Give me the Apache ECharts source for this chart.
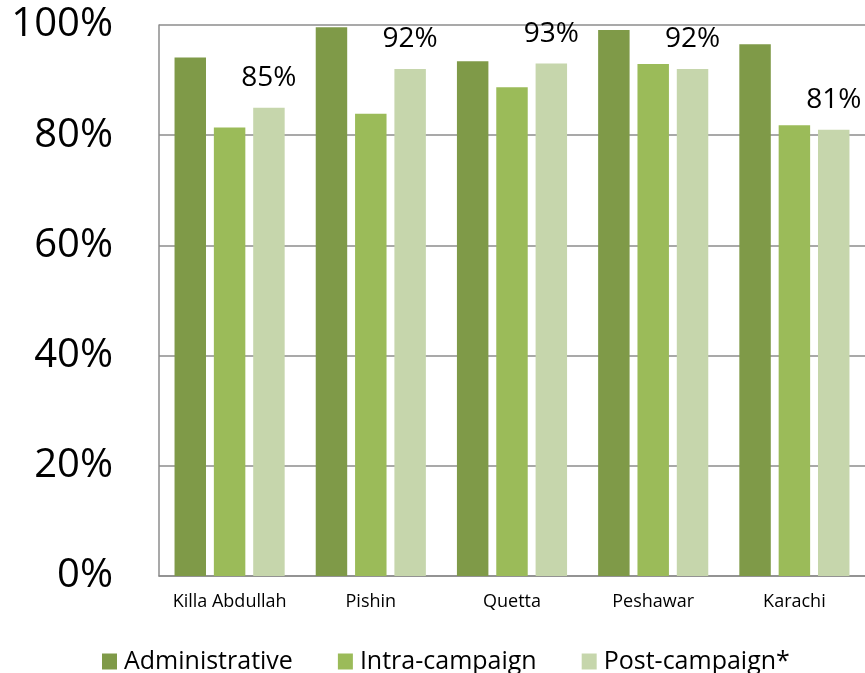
<!DOCTYPE html>
<html>
<head>
<meta charset="utf-8">
<script src="https://cdn.jsdelivr.net/npm/echarts@6/dist/echarts.min.js"></script>
<style>
  html, body { margin: 0; padding: 0; background: #fff; }
  #chart { width: 865px; height: 673px; }
</style>
</head>
<body>
<div id="chart"></div>
<script>
// Coverage by district (%), three survey methods
const districts = ['Killa Abdullah', 'Pishin', 'Quetta', 'Peshawar', 'Karachi'];
const administrative = [94.1, 99.6, 93.4, 99.1, 96.5];
const intraCampaign = [81.4, 83.9, 88.7, 92.9, 81.8];
const postCampaign = [85, 92, 93, 92, 81];
const yTicks = [0, 20, 40, 60, 80, 100];

const FONT = '"Open Sans", "Noto Sans", sans-serif';
const GRID_GRAY = '#8c8c8c';

const chart = echarts.init(document.getElementById('chart'), null, { renderer: 'canvas' });

chart.setOption({
  animation: false,
  backgroundColor: '#ffffff',
  textStyle: { fontFamily: FONT, color: '#000' },
  grid: { left: 159, top: 25, right: 0, bottom: 97, containLabel: false },
  legend: {
    left: 97,
    top: 644,
    icon: 'rect',
    itemWidth: 15,
    itemHeight: 16,
    itemGap: 45,
    textStyle: { fontFamily: FONT, fontSize: 25, color: '#000', padding: [0, 0, 0, 2] },
    data: ['Administrative', 'Intra-campaign', 'Post-campaign*']
  },
  xAxis: {
    type: 'category',
    data: districts,
    axisLine: { show: true, lineStyle: { color: GRID_GRAY, width: 1.5 } },
    axisTick: { show: false },
    axisLabel: { fontFamily: FONT, fontSize: 18, color: '#000', margin: 17, interval: 0 }
  },
  yAxis: {
    type: 'value',
    min: yTicks[0],
    max: yTicks[yTicks.length - 1],
    interval: yTicks[1] - yTicks[0],
    axisLine: { show: true, lineStyle: { color: GRID_GRAY, width: 1.5 } },
    axisTick: { show: false },
    splitLine: { show: true, lineStyle: { color: GRID_GRAY, width: 1.5 } },
    axisLabel: { fontFamily: FONT, fontSize: 40, color: '#000', margin: 46, formatter: '{value}%' }
  },
  series: [
    {
      name: 'Administrative',
      type: 'bar',
      data: administrative,
      barGap: '25%',
      barCategoryGap: '22%',
      itemStyle: { color: '#7f9a48' }
    },
    {
      name: 'Intra-campaign',
      type: 'bar',
      data: intraCampaign,
      barGap: '25%',
      barCategoryGap: '22%',
      itemStyle: { color: '#9bbb59' }
    },
    {
      name: 'Post-campaign*',
      type: 'bar',
      data: postCampaign,
      barGap: '25%',
      barCategoryGap: '22%',
      itemStyle: { color: '#c6d6ac' },
      label: {
        show: true,
        position: 'top',
        distance: 16,
        fontFamily: FONT,
        fontSize: 28,
        color: '#000',
        formatter: p => p.value + '%'
      }
    }
  ]
});
</script>
</body>
</html>
